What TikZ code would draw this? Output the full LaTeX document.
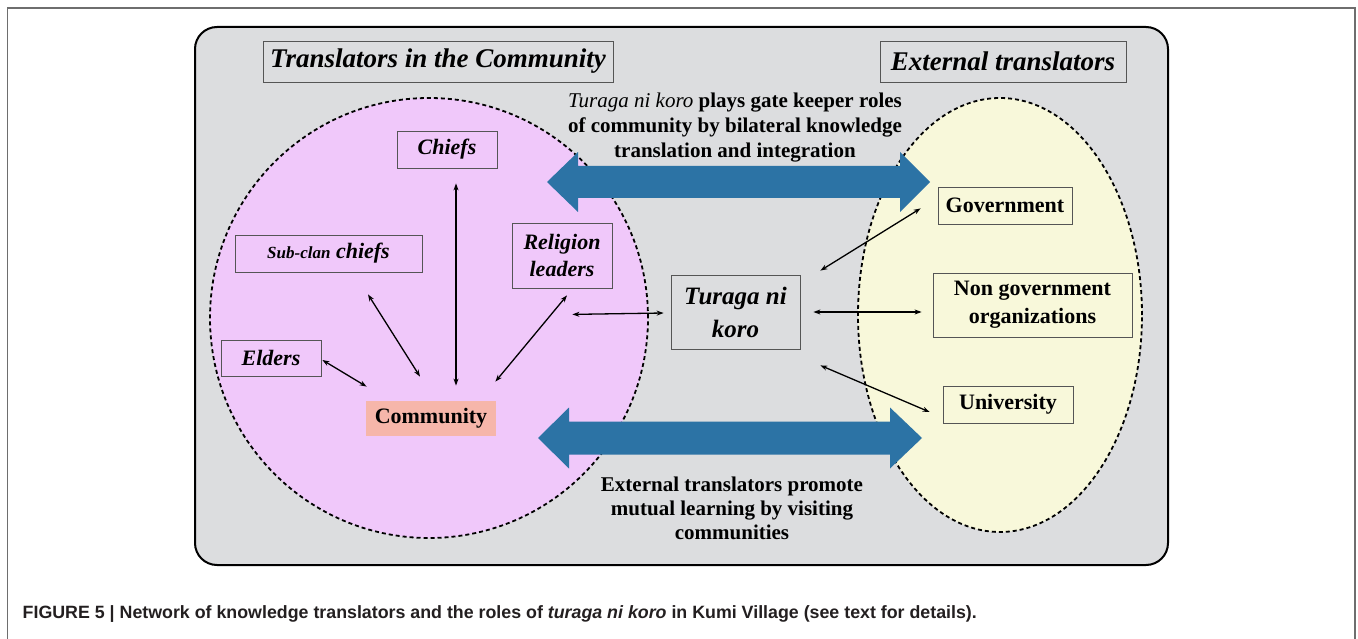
\documentclass[tikz,border=0pt]{standalone}
\usepackage{fontspec}
\setmainfont{Liberation Serif}
\newfontfamily\capfont{Liberation Sans}
\usepackage{tikz}
\usetikzlibrary{positioning, arrows.meta, calc}
\definecolor{panelFill}{RGB}{220, 221, 223}
\definecolor{innerFill}{RGB}{240, 200, 250}
\definecolor{outerFill}{RGB}{248, 248, 218}
\definecolor{hostFill}{RGB}{246, 182, 170}
\definecolor{flowBlue}{RGB}{44, 115, 165}
\definecolor{boxLine}{RGB}{85, 85, 85}
\definecolor{frameLine}{RGB}{110, 110, 110}
\definecolor{captionText}{RGB}{35, 31, 32}
\tikzset{
    panel/.style={
        draw=black,
        line width=2pt,
        fill=panelFill,
        rounded corners=22pt
    },
    group_area/.style={
        draw=black,
        line width=1.8pt,
        dash pattern=on 4pt off 3pt
    },
    flow_arrow/.style={
        fill=flowBlue
    },
    title_box/.style={
        draw=boxLine,
        line width=0.8pt,
        fill=panelFill,
        inner sep=0pt,
        font=\fontsize{27}{31}\selectfont\bfseries\itshape
    },
    actor_box/.style={
        draw=boxLine,
        line width=0.8pt,
        inner sep=0pt,
        align=center,
        font=\fontsize{22}{27}\selectfont\bfseries\itshape
    },
    inner_actor/.style={
        actor_box,
        fill=innerFill
    },
    outer_actor/.style={
        actor_box,
        fill=outerFill,
        font=\fontsize{22}{28}\selectfont\bfseries
    },
    link/.style={
        <->,
        >={Stealth[length=7pt, width=5pt]},
        line width=1.3pt,
        draw=black
    },
    note_text/.style={
        align=center,
        inner sep=0pt,
        font=\fontsize{21}{25}\selectfont\bfseries
    }
}

\begin{document}
\begin{tikzpicture}[x=1pt, y=-1pt]
    \useasboundingbox (0,0) rectangle (1358,639);
    \draw[frameLine, line width=1.2pt] (7.5,639) |- (1355,8) -- (1355,639);

    % background panel and the two groups
    \draw[panel] (195,27) rectangle (1168,565);
    \draw[group_area, fill=innerFill] (429,318) ellipse [x radius=219pt, y radius=220pt];
    \draw[group_area, fill=outerFill] (1000,315) ellipse [x radius=142pt, y radius=217pt];

    % bilateral flows
    \coordinate (gate_l) at (547,182);
    \coordinate (visit_l) at (538,438);
    \fill[flow_arrow] (gate_l) -- ++(31,-30) -- ++(0,14) -- ++(322,0) -- ++(0,-14)
        -- ++(30,30) -- ++(-30,30) -- ++(0,-14) -- ++(-322,0) -- ++(0,14) -- cycle;
    \fill[flow_arrow] (visit_l) -- ++(31,-30.5) -- ++(0,14) -- ++(321,0) -- ++(0,-14)
        -- ++(32,30.5) -- ++(-32,30.5) -- ++(0,-14) -- ++(-321,0) -- ++(0,14) -- cycle;

    \node[title_box, minimum width=350pt, minimum height=41pt] (in_title) at (438,61.5) {Translators in the Community};
    \node[title_box, minimum width=246pt, minimum height=41pt] (ex_title) at (1003,61.5) {External translators};

    % community side
    \node[inner_actor, minimum width=100pt, minimum height=37pt] (chiefs) at (447,149.5) {Chiefs};
    \node[inner_actor, minimum width=187pt, minimum height=37pt] (subclan) at (328.5,253.5)
        {{\fontsize{17}{20}\selectfont Sub-clan} chiefs};
    \node[inner_actor, minimum width=100pt, minimum height=65pt] (religion) at (562,255.5) {Religion\\leaders};
    \node[inner_actor, minimum width=100pt, minimum height=36pt] (elders) at (271,358) {Elders};
    \node[actor_box, draw=none, fill=hostFill, font=\fontsize{22}{27}\selectfont\bfseries,
        minimum width=130pt, minimum height=35pt] (community) at (431,418.5) {Community};

    % gate keeper
    \node[actor_box, fill=panelFill, font=\fontsize{25}{33}\selectfont\bfseries\itshape,
        minimum width=129pt, minimum height=74pt] (turaga) at (735.5,312) {Turaga ni\\koro};

    % external side
    \node[outer_actor, minimum width=134pt, minimum height=37pt] (gov) at (1005,205.5) {Government};
    \node[outer_actor, minimum width=199pt, minimum height=64pt] (ngo) at (1032.5,305) {Non government\\organizations};
    \node[outer_actor, minimum width=130pt, minimum height=37pt] (univ) at (1008,404.5) {University};

    \draw[link] ($(chiefs.south)+(9,15)$) -- ($(community.north)+(25,-15)$);
    \draw[link] ($(subclan.south)+(39.5,22)$) -- ($(community.north)+(-11,-24)$);
    \draw[link] ($(elders.east)+(1,2)$) -- ($(community.north west)+(1,-14)$);
    \draw[link] ($(religion.south)+(5,7)$) -- ($(community.north east)+(-1,-19)$);
    \draw[link] ($(religion.south east)+(-40,26)$) -- ($(turaga.west)+(-7,1)$);
    \draw[link] ($(turaga.east)+(13,0)$) -- ($(ngo.west)+(-11,7)$);
    \draw[link] ($(turaga.north east)+(20,-4)$) -- ($(gov.south west)+(-17,-16)$);
    \draw[link] ($(turaga.south east)+(20,16)$) -- ($(univ.west)+(-13,7.5)$);

    \node[note_text] (gate_note) at (735,128)
        {{\mdseries\itshape Turaga ni koro} plays gate keeper roles\\of community by bilateral knowledge\\translation and integration};
    \node[note_text, font=\fontsize{21}{24}\selectfont\bfseries] (visit_note) at (732,508)
        {External translators promote\\mutual learning by visiting\\communities};

    \node[anchor=base west, inner sep=0pt, text=captionText,
        font=\capfont\bfseries\fontsize{17.8}{21}\selectfont] (caption) at (22.5,618)
        {FIGURE 5 | Network of knowledge translators and the roles of \textit{turaga ni koro} in Kumi Village (see text for details).};
\end{tikzpicture}
\end{document}
